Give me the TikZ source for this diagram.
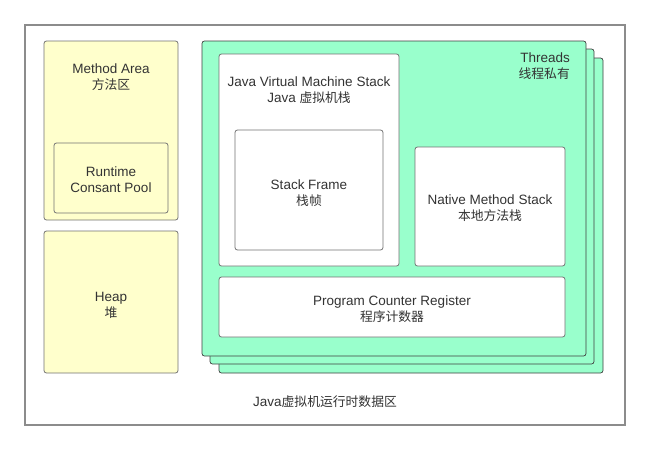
\documentclass[tikz,border=0pt]{standalone}
\usepackage{fontspec}
\setmainfont{Liberation Sans}
\newfontfamily\zhfont{Noto Sans CJK SC}
\newcommand{\zh}[1]{{\zhfont\fontsize{12.8}{16}\selectfont #1}}
\begin{document}
\begin{tikzpicture}[x=1pt,y=-1pt,
  every node/.style={font=\fontsize{13.5}{16}\selectfont, text=black!80, align=center},
  frame/.style={draw=black!45, line width=1.3pt},
  ybox/.style={draw=black!55, rounded corners=2.5pt, line width=0.8pt},
  gbox/.style={draw=black!75, rounded corners=2.5pt, line width=0.7pt},
  wbox/.style={draw=black!55, fill=white, rounded corners=2.5pt, line width=0.8pt},
  lbl/.style={inner sep=0pt}]
\definecolor{gfill}{RGB}{153,255,204}
\definecolor{yfill}{RGB}{255,255,204}
\useasboundingbox (0,0) rectangle (650,450);
\fill[white] (0,0) rectangle (650,450);
% outer frame
\draw[frame] (25,25) rectangle (625,425);
% left column
\draw[ybox, fill=yfill] (44,41) rectangle (178,220);
\node[lbl] (ma) at (111,77) {Method Area\\\zh{方法区}};
\draw[ybox, fill=yfill] (54,143) rectangle (168,213);
\node[lbl] (rcp) at (111,180) {Runtime\\Consant Pool};
\draw[ybox, fill=yfill] (44,231) rectangle (178,373);
\node[lbl] (heap) at (111,305) {Heap\\\zh{堆}};
% thread layers
\draw[gbox, fill=gfill] (219,58) rectangle (603,373);
\draw[gbox, fill=gfill] (210,49) rectangle (594,364);
\draw[gbox, fill=gfill] (202,41) rectangle (586,356);
\node[lbl, anchor=north east, align=right] (thr) at (570,53) {Threads\\\zh{线程私有}};
% JVM stack
\draw[wbox] (219,54) rectangle (399,266);
\node[lbl] (jvms) at (309,90) {Java Virtual Machine Stack\\Java \zh{虚拟机栈}};
\draw[wbox] (235,130) rectangle (383,250);
\node[lbl] (sf) at (309,193) {Stack Frame\\\zh{栈帧}};
% native
\draw[wbox] (415,147) rectangle (565,266);
\node[lbl] (nms) at (490,208) {Native Method Stack\\\zh{本地方法栈}};
% PC
\draw[wbox] (219,277) rectangle (565,337);
\node[lbl] (pc) at (392,309) {Program Counter Register\\\zh{程序计数器}};
% bottom label
\node[lbl] (title) at (325,402) {Java\zh{虚拟机运行时数据区}};
\end{tikzpicture}
\end{document}
